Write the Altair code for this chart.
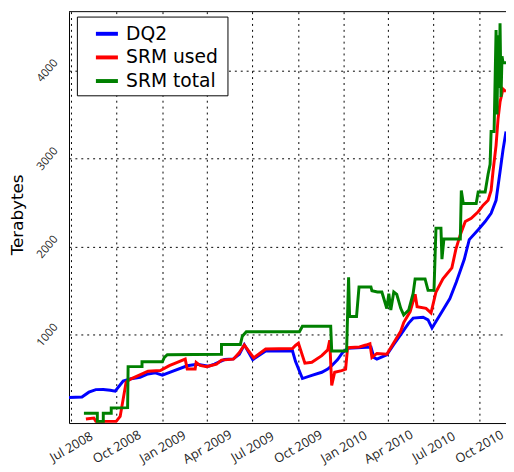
import altair as alt
import pandas as pd

# ---- data ----
series_names = ["DQ2", "SRM used", "SRM total"]
series_colors = ["#0000ff", "#ff0000", "#008000"]

dq2_dates = [
    "2008-06-27", "2008-07-23", "2008-08-06", "2008-08-20", "2008-09-04", "2008-09-18",
    "2008-09-28", "2008-10-14", "2008-10-30", "2008-11-17", "2008-12-03", "2008-12-18",
    "2009-01-01", "2009-01-21", "2009-02-20", "2009-03-12", "2009-04-04", "2009-04-16",
    "2009-05-06", "2009-05-24", "2009-06-05", "2009-06-15", "2009-07-02", "2009-07-28",
    "2009-09-20", "2009-09-26", "2009-10-10", "2009-10-29", "2009-11-18", "2009-11-30",
    "2009-12-08", "2009-12-20", "2009-12-30", "2010-01-09", "2010-02-25", "2010-03-03",
    "2010-03-09", "2010-03-29", "2010-04-12", "2010-04-26", "2010-05-12", "2010-05-21",
    "2010-06-10", "2010-06-20", "2010-06-28", "2010-07-14", "2010-08-03", "2010-08-16",
    "2010-09-01", "2010-09-11", "2010-09-29", "2010-10-13", "2010-10-25", "2010-11-04",
    "2010-11-12", "2010-11-18", "2010-11-24",
]
dq2_values = [
    290, 295, 350, 379, 380, 372,
    362, 476, 502, 520, 557, 569,
    543, 587, 650, 666, 645, 669,
    720, 728, 780, 888, 720, 818,
    820, 700, 505, 540, 576, 613,
    651, 720, 800, 847, 863, 744,
    725, 775, 892, 1003, 1134, 1190,
    1200, 1171, 1078, 1226, 1412, 1600,
    1858, 2081, 2193, 2286, 2379, 2527,
    2850, 3100, 3307,
]

srm_used_dates = [
    "2008-07-31", "2008-08-16", "2008-08-20", "2008-09-30", "2008-10-08", "2008-10-20",
    "2008-10-30", "2008-12-03", "2008-12-28", "2009-01-15", "2009-01-31", "2009-02-16",
    "2009-02-20", "2009-03-08", "2009-03-10", "2009-03-18", "2009-03-31", "2009-04-20",
    "2009-04-30", "2009-05-24", "2009-06-05", "2009-06-15", "2009-07-04", "2009-07-28",
    "2009-09-20", "2009-09-26", "2009-10-02", "2009-10-15", "2009-10-29", "2009-11-18",
    "2009-11-30", "2009-12-04", "2009-12-08", "2009-12-14", "2009-12-28", "2010-01-05",
    "2010-01-09", "2010-02-02", "2010-02-15", "2010-02-23", "2010-02-27", "2010-03-09",
    "2010-03-29", "2010-04-12", "2010-04-26", "2010-05-02", "2010-05-15", "2010-05-25",
    "2010-05-29", "2010-06-16", "2010-06-26", "2010-07-06", "2010-07-20", "2010-08-07",
    "2010-08-15", "2010-08-24", "2010-09-03", "2010-09-15", "2010-09-29", "2010-10-09",
    "2010-10-19", "2010-10-25", "2010-10-29", "2010-11-04", "2010-11-08", "2010-11-12",
    "2010-11-18", "2010-11-24",
]
srm_used_values = [
    45, 56, 19, 19, 75, 465,
    502, 588, 595, 651, 688, 725,
    613, 613, 688, 654, 640, 669,
    714, 725, 800, 885, 740, 840,
    845, 880, 905, 680, 690, 765,
    830, 940, 428, 576, 595, 610,
    855, 863, 885, 900, 744, 790,
    780, 911, 1041, 1140, 1264, 1460,
    1320, 1301, 1250, 1487, 1635, 1760,
    1970, 2137, 2286, 2323, 2397, 2472,
    2527, 2639, 2862, 3150, 3450, 3642,
    3790, 3760,
]

srm_total_dates = [
    "2008-07-27", "2008-08-23", "2008-08-23", "2008-09-04", "2008-09-04", "2008-09-20",
    "2008-09-20", "2008-10-23", "2008-10-24", "2008-11-21", "2008-11-21", "2009-01-01",
    "2009-01-05", "2009-01-11", "2009-04-30", "2009-04-30", "2009-06-07", "2009-06-11",
    "2009-06-19", "2009-10-04", "2009-10-10", "2009-12-06", "2009-12-08", "2010-01-07",
    "2010-01-11", "2010-01-13", "2010-01-27", "2010-02-01", "2010-02-25", "2010-02-27",
    "2010-03-10", "2010-03-19", "2010-03-29", "2010-04-02", "2010-04-06", "2010-04-12",
    "2010-04-18", "2010-04-26", "2010-05-02", "2010-05-12", "2010-05-21", "2010-05-25",
    "2010-06-14", "2010-06-20", "2010-07-02", "2010-07-06", "2010-07-16", "2010-07-18",
    "2010-07-22", "2010-08-24", "2010-08-26", "2010-08-30", "2010-09-25", "2010-09-29",
    "2010-10-13", "2010-10-19", "2010-10-23", "2010-10-25", "2010-10-31", "2010-11-04",
    "2010-11-06", "2010-11-08", "2010-11-10", "2010-11-12", "2010-11-14", "2010-11-16",
    "2010-11-18", "2010-11-24",
]
srm_total_values = [
    111, 111, 19, 19, 111, 111,
    170, 175, 640, 640, 695, 695,
    744, 775, 780, 890, 890, 985,
    1035, 1035, 1097, 1097, 818, 818,
    1654, 1208, 1208, 1543, 1543, 1500,
    1487, 1487, 1300, 1468, 1282, 1487,
    1460, 1301, 1226, 1282, 1470, 1635,
    1635, 1505, 1505, 2211, 2211, 1860,
    2089, 2089, 2639, 2490, 2490, 2620,
    2620, 2825, 2936, 3307, 3307, 4459,
    3500, 4400, 3800, 4534, 3700, 4162,
    4088, 4088,
]

quarter_ticks = [
    (2008, 7), (2008, 10), (2009, 1), (2009, 4), (2009, 7),
    (2009, 10), (2010, 1), (2010, 4), (2010, 7), (2010, 10),
]
y_ticks = [1000, 2000, 3000, 4000]

# ---- build table ----
rows = []
for name, dates, vals in [
    (series_names[0], dq2_dates, dq2_values),
    (series_names[1], srm_used_dates, srm_used_values),
    (series_names[2], srm_total_dates, srm_total_values),
]:
    for i, (d, v) in enumerate(zip(dates, vals)):
        rows.append({"series": name, "date": d, "value": v, "i": i})
df = pd.DataFrame(rows)

x_axis = alt.Axis(
    values=[alt.DateTime(year=y, month=m, date=1, utc=True) for y, m in quarter_ticks],
    format="%b %Y",
    title=None,
    labelAngle=330,
    labelAlign="center",
    labelBaseline="middle",
    labelPadding=24,
    labelFont="Open Sans",
    labelFontSize=13,
    labelColor="#222222",
    labelOverlap=False,
)
y_axis = alt.Axis(
    values=y_ticks,
    format="d",
    title="Terabytes",
    titleFont="DejaVu Sans",
    titleFontSize=17,
    titleFontWeight="normal",
    titleColor="black",
    titleAngle=270,
    titleAlign="center",
    titleBaseline="middle",
    titleX=-52,
    titleY=206,
    labelAngle=310,
    labelAlign="center",
    labelBaseline="middle",
    labelPadding=22,
    labelFont="Open Sans",
    labelFontSize=11.5,
    labelColor="#222222",
)

lines = alt.Chart(df).mark_line(strokeWidth=3, clip=True).encode(
    x=alt.X(
        "date:T",
        scale=alt.Scale(
            type="utc",
            domain=[
                alt.DateTime(year=2008, month=6, date=27, utc=True),
                alt.DateTime(year=2010, month=11, date=24, utc=True),
            ],
        ),
        axis=x_axis,
    ),
    y=alt.Y("value:Q", scale=alt.Scale(domain=[0, 4667], nice=False, zero=False), axis=y_axis),
    color=alt.Color(
        "series:N",
        scale=alt.Scale(domain=series_names, range=series_colors),
        legend=alt.Legend(
            title="\u00a0\u00a0",
            titleOrient="right",
            titleFontSize=11,
            titlePadding=6,
            orient="none",
            legendX=8,
            legendY=5,
            direction="vertical",
            fillColor="white",
            strokeColor="black",
            padding=4,
            cornerRadius=0,
            symbolType="stroke",
            symbolSize=500,
            symbolStrokeWidth=4,
            symbolOffset=13,
            labelOffset=6,
            labelFont="DejaVu Sans",
            labelFontSize=19,
            labelColor="black",
            rowPadding=0,
        ),
    ),
    order=alt.Order("i:Q"),
)

top_spine = alt.Chart(pd.DataFrame({"a": [0]})).mark_rule(color="black", strokeWidth=1).encode(
    y=alt.value(0)
)

chart = (
    alt.layer(lines, top_spine)
    .properties(
        width=444,
        height=418,
        autosize=alt.AutoSizeParams(type="none"),
        padding={"left": 62, "top": 0, "right": 0, "bottom": 44},
    )
    .configure_view(stroke=None)
    .configure_axis(
        grid=True,
        gridColor="black",
        gridDash=[2, 4],
        gridWidth=1,
        gridOpacity=1,
        domainColor="black",
        domainWidth=1,
        ticks=False,
    )
)

chart.save("out.html", embed_options={"renderer": "svg", "actions": False})
